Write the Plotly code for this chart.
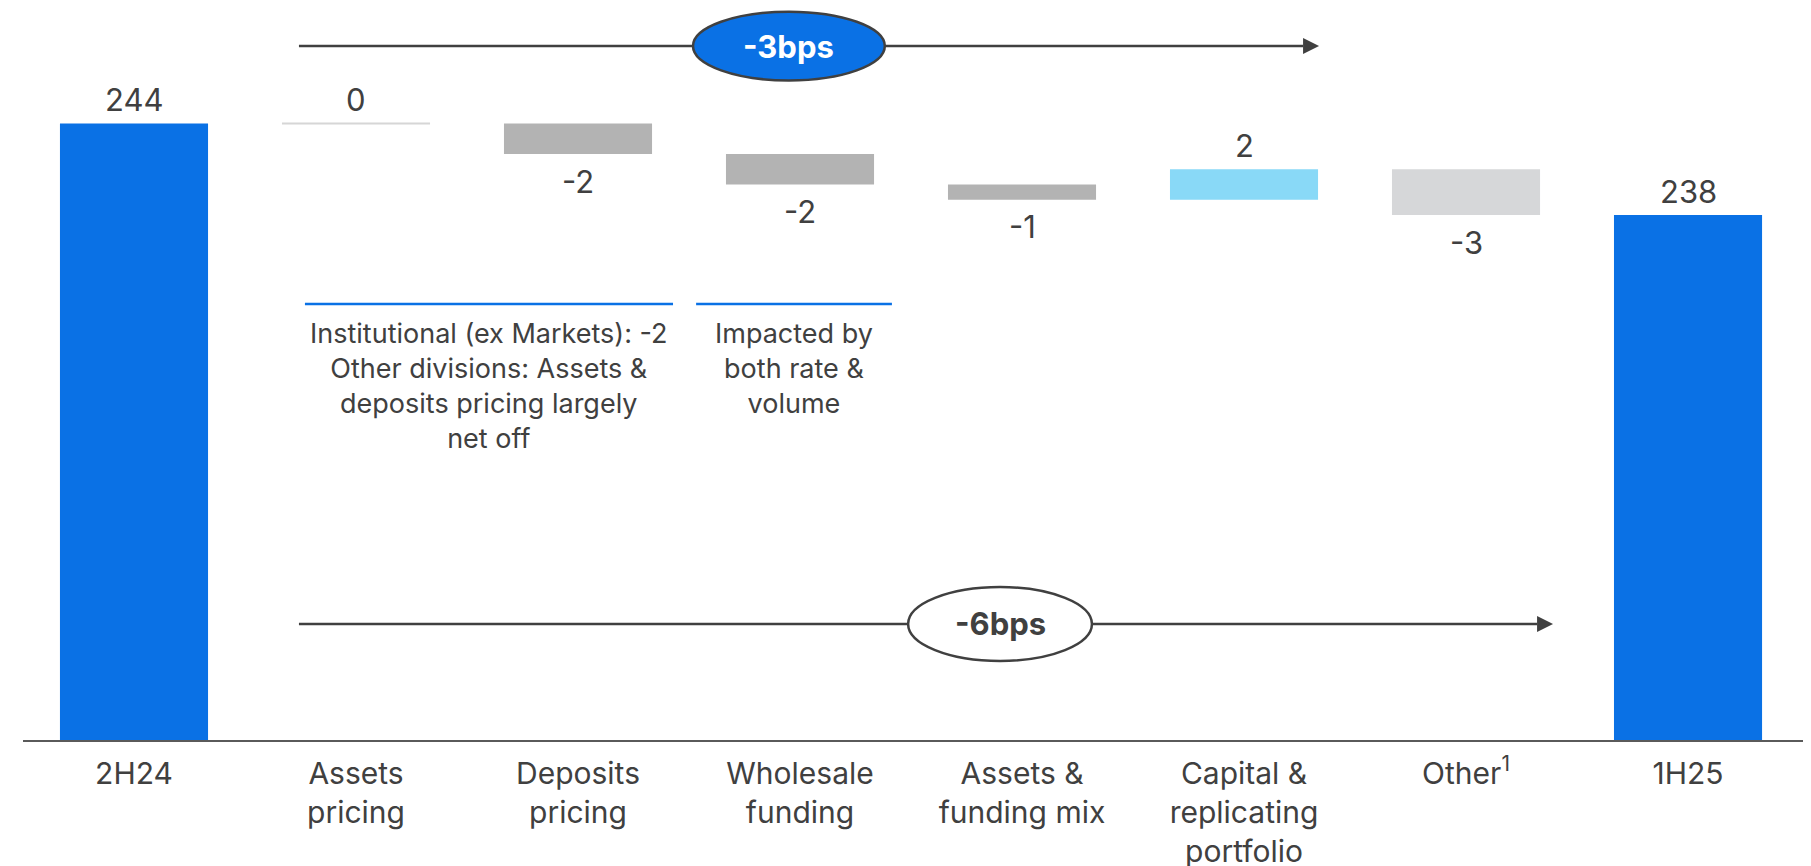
import plotly.graph_objects as go

# ── Data ──────────────────────────────────────────────────────────────
categories = [
    "2H24",
    "Assets<br>pricing",
    "Deposits<br>pricing",
    "Wholesale<br>funding",
    "Assets &<br>funding mix",
    "Capital &<br>replicating<br>portfolio",
    "Other<sup>1</sup>",
    "1H25",
]
start_value = 244
deltas = [0, -2, -2, -1, 2, -3]
end_value = 238
bar_colors = ["#0A71E5", "#D6D6D6", "#B3B3B3", "#B3B3B3", "#B3B3B3",
              "#89D9F7", "#D6D7D9", "#0A71E5"]
notes = [
    "Institutional (ex Markets): -2<br>Other divisions: Assets &<br>deposits pricing largely<br>net off",
    "Impacted by<br>both rate &<br>volume",
]
bridge_labels = ["-3bps", "-6bps"]

BLUE = "#0A71E5"
TEXT = "#404040"
LINE = "#404040"
FONT = "Inter"

# running levels for the floating bars
bases, heights = [0], [start_value]
level = start_value
for d in deltas:
    bases.append(level)
    heights.append(d)
    level += d
bases.append(0)
heights.append(end_value)

x = list(range(len(categories)))
bar_w = 0.667

fig = go.Figure()
fig.add_trace(go.Bar(
    x=x, y=heights, base=bases, width=bar_w,
    marker={"color": bar_colors, "line": {"width": 0}},
    showlegend=False, hoverinfo="skip",
))

# zero-change step drawn as a thin line
for i, (b, h) in enumerate(zip(bases, heights)):
    if h == 0:
        fig.add_trace(go.Scatter(
            x=[i - bar_w / 2, i + bar_w / 2], y=[b, b], mode="lines",
            line={"color": "#D6D6D6", "width": 2},
            showlegend=False, hoverinfo="skip",
        ))

# value labels
for i, (b, h) in enumerate(zip(bases, heights)):
    top = b + h
    below = h < 0
    fig.add_annotation(
        x=i, y=top, xref="x", yref="y", text=f"{h}",
        showarrow=False, xanchor="center", yanchor="middle",
        yshift=-27 if below else 24,
        font={"family": FONT, "size": 31, "color": TEXT},
    )

# ── Bridge arrows ─────────────────────────────────────────────────────
HEAD_LEN = 0.072   # x units (~16px)
HEAD_HALF = 0.011  # paper units (~8px)


def bridge(x0, x1, y, cx, rx, ry, label, fill, txt_color):
    fig.add_shape(type="line", xref="x", yref="paper", x0=x0, x1=x1 - HEAD_LEN,
                  y0=y, y1=y, line={"color": LINE, "width": 2.5})
    fig.add_shape(
        type="path", xref="x", yref="paper",
        path=f"M {x1 - HEAD_LEN} {y - HEAD_HALF} L {x1} {y} "
             f"L {x1 - HEAD_LEN} {y + HEAD_HALF} Z",
        fillcolor=LINE, line={"width": 0},
    )
    fig.add_shape(type="circle", xref="x", yref="paper",
                  x0=cx - rx, x1=cx + rx, y0=y - ry, y1=y + ry,
                  fillcolor=fill, line={"color": LINE, "width": 2.5})
    fig.add_annotation(x=cx, y=y, xref="x", yref="paper", text=f"<b>{label}</b>",
                       showarrow=False, xanchor="center", yanchor="middle",
                       font={"family": FONT, "size": 31, "color": txt_color})


bridge(0.743, 5.338, 0.948, 2.950, 0.432, 0.047, bridge_labels[0], BLUE, "white")
bridge(0.743, 6.392, 0.1585, 3.901, 0.414, 0.0505, bridge_labels[1], "white", TEXT)

# ── Side notes with blue rules ────────────────────────────────────────
for (x0, x1), note in zip([(0.770, 2.428), (2.532, 3.414)], notes):
    fig.add_shape(type="line", xref="x", yref="paper", x0=x0, x1=x1,
                  y0=0.5956, y1=0.5956, line={"color": BLUE, "width": 2.5})
    fig.add_annotation(x=(x0 + x1) / 2, y=0.5800, xref="x", yref="paper",
                       text=note, showarrow=False, xanchor="center",
                       yanchor="top", align="center",
                       font={"family": FONT, "size": 27, "color": TEXT})

# ── Layout ────────────────────────────────────────────────────────────
# the page adds an 8px body margin, so the figure is offset to compensate
fig.update_layout(
    width=1811, height=866,
    margin={"l": 15, "r": 0, "t": 0, "b": 134},
    paper_bgcolor="white", plot_bgcolor="white",
    showlegend=False,
)
fig.update_xaxes(
    range=[-0.5, 7.590], tickvals=x, ticktext=categories,
    tickfont={"family": FONT, "size": 30, "color": TEXT},
    ticklabelstandoff=6,
    showline=True, linecolor="#5A5A5A", linewidth=2,
    showgrid=False, zeroline=False, ticks="",
)
fig.update_yaxes(
    range=[203.58, 251.58], visible=False,
)

fig.write_html("out.html")
